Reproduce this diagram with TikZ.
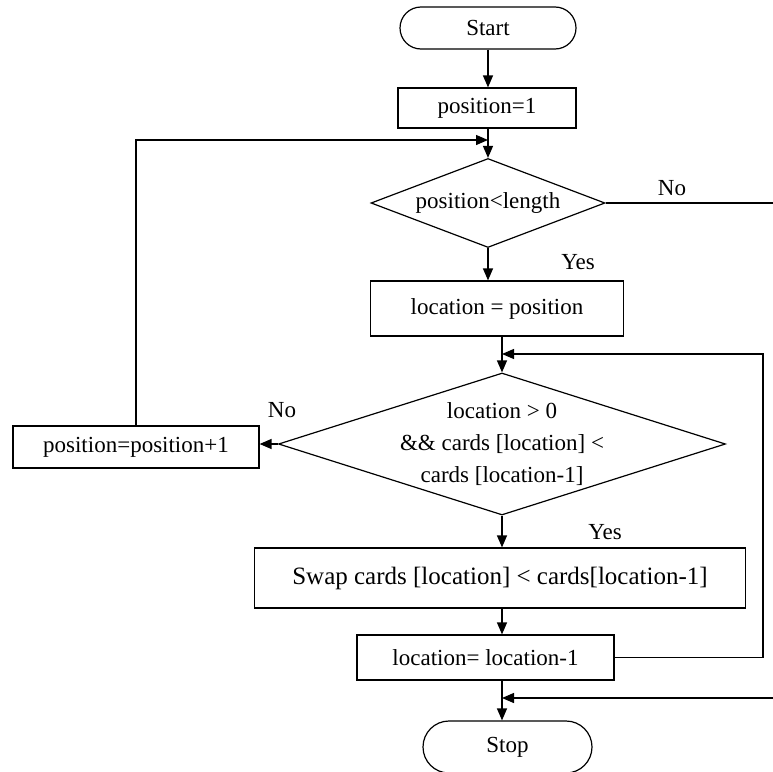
\documentclass[tikz,border=0pt]{standalone}
\usepackage{fontspec}
\setmainfont{Liberation Serif}
\usetikzlibrary{shapes.geometric,arrows.meta}
\begin{document}
\begin{tikzpicture}[x=1pt,y=-1pt,
  every node/.style={font=\fontsize{23}{32}\selectfont},
  box/.style={draw, line width=1.2pt, rectangle, inner sep=0pt},
  term/.style={box, rounded corners=#1},
  decision/.style={draw, line width=1.2pt, diamond, inner sep=0pt},
  arr/.style={line width=1.3pt, -{Triangle[length=12pt,width=10pt]}},
  conn/.style={line width=1.3pt},
  lbl/.style={inner sep=0pt, align=center}]
\clip (0,0) rectangle (773,771);

% process steps
\node[term=21pt, minimum width=176pt, minimum height=42pt] (start) at (488,28) {Start};
\node[box, minimum width=178pt, minimum height=40pt] (p1) at (487,108) {position=1};
\node[decision, minimum width=234pt, minimum height=89pt,
      label={[lbl]center:{position<length}}] (d1) at (488,203) {};
\node[box, minimum width=253pt, minimum height=55pt] (lp) at (497,308.5) {location = position};
\node[decision, minimum width=447pt, minimum height=142pt,
      label={[lbl]center:{location > 0\\\&\& cards [location] <\\cards [location-1]}}] (d2) at (502,444) {};
\node[box, minimum width=246pt, minimum height=42pt] (pp1) at (136,447) {position=position+1};
\node[box, minimum width=491pt, minimum height=60pt, font=\fontsize{25}{30}\selectfont] (sw) at (500,578) {Swap cards [location] < cards[location-1]};
\node[box, minimum width=257pt, minimum height=45pt] (lm1) at (485.5,657.5) {location= location-1};
\node[term=26pt, minimum width=169pt, minimum height=52pt] (stop) at (507.5,747) {Stop};

% branch labels
\node[lbl] (no1) at (672,188) {No};
\node[lbl] (yes1) at (578,262) {Yes};
\node[lbl] (no2) at (282,410) {No};
\node[lbl] (yes2) at (605,532) {Yes};

% junctions and loose ends
\coordinate (e1) at (773,203);
\coordinate (e2) at (773,698);
\coordinate (j1) at (488,140);
\coordinate (j2) at (502,354);
\coordinate (j3) at (502,698);
\coordinate (r) at (763,354);

% connectors
\draw[arr] (start.south) -- (start.south |- p1.north);
\draw[arr] (d1.north |- p1.south) -- (d1.north);
\draw[arr] (pp1.north) |- (j1);
\draw[conn] (d1.east) -- (e1);
\draw[arr] (d1.south) -- (d1.south |- lp.north);
\draw[arr] (d2.north |- lp.south) -- (d2.north);
\draw[arr] (lm1.east) -| (r) -- (j2);
\draw[arr] (d2.west) -- (d2.west -| pp1.east);
\draw[arr] (d2.south) -- (d2.south |- sw.north);
\draw[arr] (d2.south |- sw.south) -- (d2.south |- lm1.north);
\draw[arr] (d2.south |- lm1.south) -- (d2.south |- stop.north);
\draw[arr] (e2) -- (j3);
\end{tikzpicture}
\end{document}
